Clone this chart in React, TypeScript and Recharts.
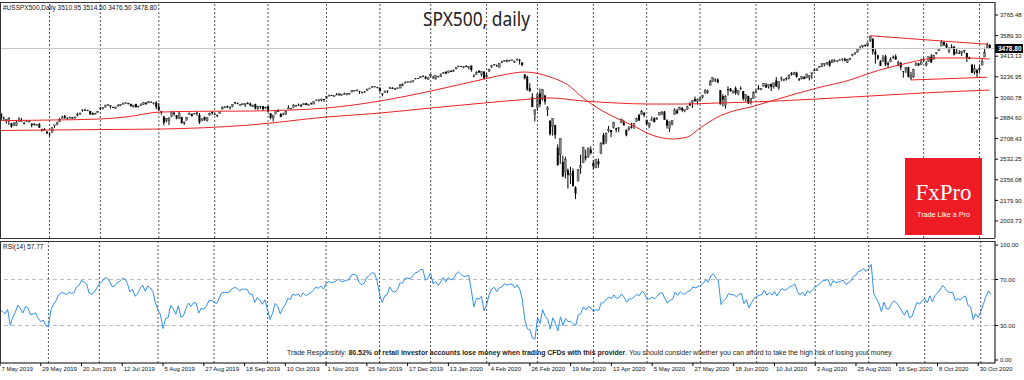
import {
  Bar,
  ComposedChart,
  Line,
  ReferenceLine,
  XAxis,
  YAxis,
} from "recharts";

// closes before the first visible bar (mid Apr - 6 May 2019), only used to seed RSI(14)
const preCloses = [2905, 2907, 2900, 2905, 2908, 2934, 2927, 2926, 2940, 2944, 2946, 2924, 2918, 2946, 2932];

// daily candles [open, high, low, close], 7 May 2019 .. 6 Nov 2020
const ohlc: number[][] = [
  // May 2019
  [2920, 2925, 2862, 2884], [2880, 2898, 2871, 2879], [2860, 2875, 2836, 2870], [2863, 2892, 2825, 2881],
  [2840, 2840, 2801, 2812], [2820, 2852, 2816, 2834], [2820, 2858, 2815, 2850], [2855, 2892, 2855, 2876], [2858, 2885, 2854, 2860],
  [2841, 2853, 2831, 2840], [2854, 2868, 2851, 2864], [2856, 2865, 2851, 2856], [2837, 2837, 2805, 2823], [2833, 2841, 2820, 2826],
  [2827, 2834, 2822, 2830], [2830, 2841, 2799, 2802], [2790, 2792, 2766, 2783], [2786, 2800, 2776, 2788], [2767, 2772, 2750, 2752],
  // Jun 2019
  [2752, 2763, 2728, 2744], [2762, 2805, 2762, 2803], [2818, 2827, 2801, 2826], [2828, 2853, 2822, 2843], [2853, 2885, 2848, 2873],
  [2885, 2904, 2883, 2886], [2903, 2911, 2878, 2885], [2882, 2888, 2874, 2879], [2887, 2895, 2881, 2891], [2887, 2894, 2880, 2887],
  [2889, 2898, 2885, 2889], [2906, 2931, 2898, 2917], [2920, 2932, 2912, 2926], [2949, 2958, 2937, 2954], [2952, 2964, 2946, 2950],
  [2951, 2955, 2944, 2945], [2945, 2946, 2912, 2917], [2926, 2932, 2912, 2913], [2920, 2929, 2917, 2924], [2932, 2943, 2929, 2942],
  // Jul 2019
  [2972, 2978, 2953, 2964], [2964, 2974, 2958, 2973], [2978, 2996, 2976, 2996], [2996, 3000, 2992, 2998], [2984, 2994, 2967, 2990],
  [2979, 2981, 2970, 2976], [2966, 2981, 2963, 2979], [2990, 3003, 2985, 2993], [2999, 3003, 2988, 3000], [3003, 3014, 3001, 3014],
  [3017, 3017, 3008, 3014], [3012, 3015, 3000, 3004], [3006, 3006, 2984, 2985], [2980, 2998, 2974, 2995], [3004, 3007, 2975, 2977],
  [2982, 2990, 2977, 2985], [2994, 3006, 2988, 3005], [2999, 3019, 2996, 3019], [3016, 3017, 2997, 3004], [3013, 3028, 3012, 3026],
  [3024, 3025, 3014, 3021], [3007, 3018, 3000, 3013], [3017, 3029, 2959, 2980],
  // Aug 2019
  [2981, 3013, 2945, 2954], [2943, 2945, 2914, 2932],
  [2898, 2898, 2822, 2844], [2861, 2884, 2847, 2881], [2859, 2892, 2825, 2884], [2896, 2938, 2891, 2938], [2930, 2935, 2901, 2919],
  [2908, 2909, 2874, 2883], [2880, 2943, 2877, 2926], [2894, 2894, 2839, 2840], [2846, 2856, 2825, 2848], [2865, 2893, 2865, 2889],
  [2913, 2932, 2913, 2924], [2919, 2923, 2899, 2900], [2922, 2928, 2917, 2925], [2930, 2940, 2904, 2922], [2911, 2927, 2834, 2847],
  [2866, 2879, 2857, 2878], [2893, 2898, 2860, 2869], [2861, 2890, 2853, 2888], [2910, 2930, 2906, 2924], [2937, 2940, 2914, 2926],
  // Sep 2019
  [2921, 2924, 2910, 2915], [2909, 2914, 2891, 2906], [2924, 2938, 2921, 2938], [2960, 2985, 2960, 2976], [2980, 2985, 2972, 2979],
  [2988, 2989, 2969, 2979], [2971, 2980, 2957, 2980], [2982, 3002, 2977, 3001], [3019, 3021, 3003, 3010], [3012, 3017, 3002, 3007],
  [2997, 3003, 2990, 2998], [2996, 3007, 2995, 3006], [3001, 3008, 2978, 3007], [3010, 3022, 3004, 3006], [3008, 3016, 2985, 2992],
  [2983, 2999, 2979, 2992], [3003, 3007, 2957, 2966], [2968, 2990, 2953, 2984], [2985, 2987, 2964, 2977], [2986, 2988, 2946, 2961],
  [2967, 2983, 2967, 2977],
  // Oct 2019
  [2983, 2993, 2938, 2940], [2925, 2925, 2874, 2887], [2885, 2911, 2855, 2910], [2919, 2953, 2918, 2952],
  [2945, 2960, 2937, 2938], [2920, 2925, 2892, 2893], [2912, 2929, 2907, 2919], [2918, 2948, 2912, 2938], [2963, 2993, 2963, 2970],
  [2966, 2972, 2962, 2966], [2974, 3003, 2974, 2996], [2990, 2997, 2986, 2990], [3000, 3008, 2991, 2998], [2997, 3000, 2977, 2986],
  [2997, 3008, 2996, 3007], [3010, 3015, 2995, 2996], [2994, 3005, 2992, 3004], [3014, 3016, 2997, 3010], [3004, 3027, 3001, 3023],
  [3033, 3044, 3032, 3039], [3036, 3047, 3031, 3036], [3039, 3050, 3026, 3047], [3046, 3046, 3023, 3038],
  // Nov 2019
  [3050, 3067, 3050, 3067],
  [3078, 3085, 3074, 3078], [3080, 3083, 3072, 3075], [3075, 3079, 3065, 3077], [3087, 3098, 3080, 3085], [3082, 3094, 3073, 3093],
  [3081, 3088, 3076, 3087], [3089, 3102, 3085, 3091], [3084, 3098, 3079, 3094], [3090, 3098, 3083, 3097], [3107, 3121, 3104, 3120],
  [3117, 3124, 3112, 3122], [3127, 3127, 3113, 3120], [3114, 3118, 3091, 3108], [3108, 3110, 3094, 3104], [3112, 3112, 3099, 3110],
  [3118, 3133, 3117, 3133], [3135, 3142, 3131, 3141], [3145, 3155, 3143, 3154], [3154, 3156, 3150, 3153], [3147, 3151, 3140, 3141],
  // Dec 2019
  [3144, 3144, 3110, 3114], [3087, 3095, 3070, 3093], [3103, 3120, 3103, 3113], [3119, 3120, 3099, 3117], [3134, 3151, 3134, 3146],
  [3141, 3149, 3135, 3135], [3135, 3143, 3126, 3133], [3136, 3144, 3133, 3142], [3141, 3176, 3138, 3169], [3167, 3182, 3157, 3169],
  [3183, 3198, 3183, 3191], [3195, 3198, 3191, 3192], [3195, 3199, 3191, 3191], [3192, 3205, 3192, 3205], [3223, 3226, 3216, 3221],
  [3226, 3227, 3222, 3224], [3227, 3240, 3227, 3240], [3247, 3247, 3234, 3240],
  [3240, 3240, 3216, 3221], [3216, 3231, 3212, 3231],
  // Jan 2020
  [3245, 3258, 3235, 3258], [3226, 3246, 3222, 3235],
  [3218, 3247, 3214, 3246], [3241, 3244, 3233, 3237], [3238, 3267, 3236, 3253], [3266, 3275, 3264, 3275], [3281, 3282, 3260, 3265],
  [3271, 3288, 3268, 3288], [3285, 3295, 3277, 3283], [3282, 3299, 3281, 3289], [3303, 3317, 3302, 3317], [3323, 3330, 3318, 3330],
  [3328, 3331, 3322, 3325], [3321, 3329, 3310, 3321], [3330, 3337, 3320, 3321], [3316, 3326, 3301, 3326], [3333, 3334, 3281, 3295],
  [3247, 3258, 3234, 3244], [3255, 3285, 3253, 3276], [3289, 3293, 3271, 3273], [3256, 3285, 3242, 3284], [3282, 3282, 3214, 3226],
  // Feb 2020
  [3236, 3268, 3235, 3249], [3281, 3306, 3281, 3298], [3324, 3337, 3313, 3334], [3344, 3347, 3334, 3345], [3335, 3341, 3322, 3328],
  [3318, 3352, 3317, 3352], [3365, 3375, 3355, 3358], [3370, 3381, 3369, 3379], [3365, 3385, 3360, 3374], [3378, 3380, 3367, 3380],
  [3380, 3384, 3374, 3382], [3369, 3375, 3355, 3370], [3380, 3393, 3378, 3386], [3380, 3390, 3342, 3373], [3360, 3360, 3328, 3338],
  [3257, 3259, 3214, 3226], [3238, 3247, 3118, 3128], [3139, 3182, 3108, 3116], [3062, 3097, 2977, 2979], [2916, 2959, 2855, 2954],
  // Mar 2020
  [2974, 3091, 2946, 3090], [3096, 3137, 2977, 3003], [3046, 3130, 3034, 3130], [3076, 3084, 2999, 3024], [2954, 2985, 2901, 2972],
  [2863, 2863, 2734, 2747], [2813, 2882, 2734, 2882], [2825, 2825, 2707, 2741], [2631, 2660, 2478, 2481], [2569, 2711, 2493, 2711],
  [2509, 2563, 2380, 2386], [2425, 2553, 2367, 2529], [2436, 2453, 2281, 2398], [2393, 2466, 2320, 2409], [2431, 2454, 2295, 2305],
  [2291, 2300, 2191, 2237], [2345, 2449, 2345, 2447], [2457, 2572, 2407, 2476], [2501, 2638, 2500, 2630], [2556, 2615, 2520, 2541],
  [2558, 2632, 2545, 2627], [2614, 2642, 2572, 2585],
  // Apr 2020
  [2499, 2522, 2447, 2471], [2458, 2533, 2455, 2527], [2514, 2538, 2459, 2489],
  [2579, 2677, 2575, 2664], [2739, 2756, 2657, 2660], [2686, 2760, 2664, 2750], [2776, 2818, 2762, 2790],
  [2782, 2782, 2721, 2762], [2805, 2852, 2795, 2846], [2796, 2801, 2761, 2784], [2800, 2807, 2765, 2800], [2843, 2880, 2842, 2875],
  [2845, 2868, 2820, 2823], [2784, 2786, 2728, 2737], [2787, 2815, 2775, 2799], [2810, 2844, 2795, 2798], [2812, 2842, 2791, 2837],
  [2854, 2887, 2852, 2878], [2909, 2921, 2860, 2863], [2918, 2954, 2912, 2940], [2931, 2931, 2892, 2912],
  // May 2020
  [2869, 2869, 2821, 2831],
  [2816, 2844, 2797, 2843], [2868, 2898, 2863, 2868], [2884, 2891, 2847, 2849], [2879, 2892, 2870, 2882], [2909, 2932, 2909, 2930],
  [2915, 2945, 2912, 2930], [2939, 2945, 2869, 2870], [2865, 2874, 2794, 2820], [2794, 2852, 2766, 2853], [2829, 2865, 2821, 2864],
  [2914, 2968, 2914, 2954], [2948, 2964, 2922, 2923], [2953, 2981, 2953, 2972], [2969, 2979, 2938, 2949], [2948, 2957, 2934, 2955],
  [2960, 2990, 2955, 2980], [3005, 3021, 2988, 2992], [3015, 3036, 2970, 3036], [3046, 3068, 3023, 3030], [3026, 3050, 2999, 3044],
  // Jun 2020
  [3038, 3062, 3032, 3056], [3064, 3081, 3051, 3081], [3098, 3131, 3091, 3123], [3112, 3128, 3091, 3112], [3163, 3211, 3163, 3194],
  [3199, 3233, 3193, 3232], [3214, 3223, 3193, 3207], [3213, 3223, 3181, 3190], [3123, 3123, 2999, 3002], [3072, 3088, 2984, 3041],
  [2993, 3079, 2965, 3067], [3131, 3154, 3076, 3125], [3137, 3141, 3109, 3113], [3101, 3121, 3093, 3115], [3140, 3155, 3083, 3098],
  [3094, 3121, 3079, 3118], [3138, 3155, 3127, 3131], [3115, 3115, 3033, 3050], [3047, 3086, 3024, 3084], [3074, 3074, 3005, 3009],
  [3018, 3054, 2999, 3053], [3050, 3112, 3048, 3100],
  // Jul 2020
  [3105, 3128, 3102, 3116], [3143, 3165, 3124, 3130], [3130, 3140, 3122, 3135],
  [3155, 3183, 3155, 3179], [3167, 3185, 3142, 3145], [3153, 3171, 3136, 3169], [3176, 3179, 3115, 3152], [3152, 3187, 3136, 3185],
  [3205, 3235, 3150, 3155], [3142, 3200, 3127, 3197], [3225, 3238, 3200, 3227], [3209, 3220, 3199, 3216], [3225, 3233, 3205, 3225],
  [3224, 3258, 3215, 3251], [3269, 3277, 3248, 3257], [3254, 3279, 3253, 3276], [3272, 3280, 3229, 3236], [3219, 3227, 3200, 3216],
  [3219, 3241, 3214, 3239], [3235, 3243, 3216, 3218], [3227, 3264, 3227, 3258], [3231, 3250, 3205, 3246], [3270, 3272, 3220, 3271],
  // Aug 2020
  [3288, 3302, 3284, 3295], [3289, 3306, 3287, 3306], [3317, 3330, 3317, 3327], [3323, 3351, 3319, 3349], [3341, 3352, 3328, 3351],
  [3357, 3364, 3335, 3360], [3370, 3381, 3323, 3333], [3356, 3387, 3355, 3380], [3373, 3388, 3363, 3373], [3368, 3378, 3361, 3373],
  [3380, 3388, 3374, 3381], [3387, 3395, 3370, 3389], [3392, 3399, 3369, 3375], [3360, 3391, 3355, 3385], [3386, 3399, 3379, 3397],
  [3418, 3433, 3412, 3431], [3435, 3444, 3424, 3443], [3449, 3481, 3444, 3478], [3485, 3501, 3468, 3484], [3494, 3509, 3485, 3508],
  [3509, 3514, 3494, 3500],
  // Sep 2020
  [3507, 3528, 3494, 3527], [3543, 3588, 3535, 3580], [3564, 3564, 3427, 3455], [3453, 3479, 3349, 3427],
  [3420, 3425, 3380, 3395], [3371, 3379, 3329, 3331], [3369, 3424, 3367, 3399], [3412, 3425, 3329, 3340], [3353, 3368, 3310, 3341],
  [3364, 3402, 3364, 3383], [3408, 3419, 3390, 3402], [3411, 3428, 3384, 3385], [3346, 3376, 3328, 3357], [3357, 3362, 3293, 3319],
  [3285, 3285, 3229, 3281], [3295, 3320, 3270, 3315], [3320, 3323, 3232, 3237], [3226, 3279, 3209, 3246], [3236, 3306, 3228, 3298],
  [3333, 3360, 3332, 3351], [3350, 3357, 3328, 3335], [3341, 3393, 3340, 3363],
  // Oct 2020
  [3385, 3397, 3361, 3381], [3338, 3370, 3324, 3348],
  [3368, 3409, 3367, 3408], [3408, 3431, 3355, 3361], [3385, 3426, 3385, 3419], [3434, 3448, 3428, 3446], [3459, 3482, 3459, 3477],
  [3500, 3549, 3499, 3534], [3534, 3534, 3500, 3512], [3515, 3527, 3481, 3489], [3453, 3489, 3441, 3483], [3493, 3515, 3480, 3484],
  [3494, 3502, 3419, 3427], [3439, 3476, 3435, 3443], [3440, 3465, 3433, 3436], [3439, 3460, 3415, 3453], [3464, 3466, 3440, 3465],
  [3441, 3441, 3364, 3401], [3404, 3409, 3388, 3391], [3342, 3342, 3268, 3271], [3277, 3342, 3259, 3310], [3293, 3305, 3234, 3270],
  // Nov 2020
  [3296, 3330, 3279, 3310], [3336, 3389, 3336, 3369], [3406, 3486, 3405, 3443], [3485, 3529, 3485, 3510], [3510.95, 3514.5, 3476.5, 3478.8],
];

// moving averages (bar index -> value)
const ma50Idx = [0, 19, 39, 50, 62, 78, 98, 114, 128, 149, 169, 190, 198, 206, 216, 223, 229, 236, 242, 249, 255, 264, 270, 275, 282, 288, 295, 303, 321, 334, 342, 355, 369, 380, 389];
const ma50Vals = [2862, 2867, 2876, 2896, 2935, 2942, 2944, 2953, 2970, 3030, 3115, 3218, 3255, 3278, 3235, 3167, 3056, 2953, 2885, 2816, 2748, 2705, 2722, 2799, 2893, 2944, 2979, 3030, 3141, 3210, 3270, 3346, 3398, 3398, 3389];
const ma200Idx = [0, 39, 62, 98, 128, 149, 169, 190, 204, 216, 229, 242, 255, 268, 282, 295, 321, 342, 362, 389];
const ma200Vals = [2778, 2786, 2790, 2825, 2893, 2927, 2970, 3013, 3039, 3056, 3030, 3013, 3004, 3004, 3013, 3021, 3047, 3073, 3098, 3124];

// drawn trend lines [fromIdx, fromPrice, toIdx, toPrice]
const trendLines = [
  [342, 3588, 388, 3515],
  [358, 3210, 388, 3233],
];

const monthStarts = [19, 39, 62, 84, 105, 128, 149, 169, 191, 211, 233, 254, 275, 297, 320, 341, 363, 385];
const tickLabels = [
  "7 May 2019", "29 May 2019", "20 Jun 2019", "12 Jul 2019", "5 Aug 2019", "27 Aug 2019", "18 Sep 2019",
  "10 Oct 2019", "1 Nov 2019", "25 Nov 2019", "17 Dec 2019", "13 Jan 2020", "4 Feb 2020", "26 Feb 2020",
  "19 Mar 2020", "13 Apr 2020", "5 May 2020", "27 May 2020", "18 Jun 2020", "10 Jul 2020", "3 Aug 2020",
  "25 Aug 2020", "16 Sep 2020", "8 Oct 2020", "30 Oct 2020",
];
const priceTicks = [2003.73, 2179.9, 2356.08, 2532.25, 2708.43, 2884.6, 3060.78, 3236.95, 3413.13, 3589.3, 3765.48];
const rsiTicks = [0, 30, 70, 100];
const lastPrice = 3478.8;

// RSI(14), Wilder smoothing, from the closes
const rsiValues = (() => {
  const closes = [...preCloses, ...ohlc.map((r) => r[3])];
  const out: number[] = [];
  let g = 0;
  let l = 0;
  for (let k = 1; k < closes.length; k++) {
    const diff = closes[k] - closes[k - 1];
    const up = diff > 0 ? diff : 0;
    const dn = diff < 0 ? -diff : 0;
    if (k <= 14) {
      g += up / 14;
      l += dn / 14;
    } else {
      g = (g * 13 + up) / 14;
      l = (l * 13 + dn) / 14;
    }
    if (k >= preCloses.length) out.push(l === 0 ? 100 : 100 - 100 / (1 + g / l));
  }
  return out;
})();

const rows = ohlc.map(([o, h, l, c], i) => {
  const a = ma50Idx.indexOf(i);
  const b = ma200Idx.indexOf(i);
  return {
    i,
    o,
    h,
    l,
    c,
    ma50: a >= 0 ? ma50Vals[a] : null,
    ma200: b >= 0 ? ma200Vals[b] : null,
    rsi: rsiValues[i],
  };
});

const FONT = "'Liberation Sans', Arial, sans-serif";

const Candle = (props: any) => {
  const { x, y, width, height, payload } = props;
  if (x == null || y == null) return null;
  const top = Math.min(y, y + height);
  const bot = Math.max(y, y + height);
  const span = payload.h - payload.l || 1;
  const toY = (v: number) => top + ((payload.h - v) / span) * (bot - top);
  const cx = x + width / 2;
  const bTop = toY(Math.max(payload.o, payload.c));
  const bBot = toY(Math.min(payload.o, payload.c));
  const up = payload.c >= payload.o;
  return (
    <g>
      <line x1={cx} x2={cx} y1={top} y2={bot} stroke="#000" strokeWidth={1} />
      <rect
        x={cx - 1}
        y={bTop}
        width={2}
        height={Math.max(bBot - bTop, 0.8)}
        fill={up ? "#808080" : "#000"}
        stroke={up ? "#222" : "none"}
        strokeWidth={up ? 0.35 : 0}
      />
    </g>
  );
};

const DateTick = (props: any) => {
  const { x, y, payload } = props;
  return (
    <text x={x + 1.5} y={y + 4} fontSize={6} fontFamily={FONT} fill="#111">
      {tickLabels[Math.round(payload.value / 16)]}
    </text>
  );
};

const separators = monthStarts.map((m) => (
  <ReferenceLine key={"s" + m} x={m} stroke="#222" strokeDasharray="2 2" strokeWidth={0.8} />
));

export default function App() {
  return (
    <div
      style={{
        position: "absolute",
        left: 0,
        top: 0,
        width: 1024,
        height: 380,
        background: "#fff",
        fontFamily: FONT,
        overflow: "hidden",
      }}
    >
      <div style={{ position: "absolute", left: 0, top: 0 }}>
        <ComposedChart width={1024} height={240} data={rows} margin={{ top: 2, right: 0, bottom: 2, left: 0 }}>
          <XAxis dataKey="i" hide padding={{ left: 0, right: 4 }} />
          <YAxis
            orientation="right"
            width={29}
            domain={[1858.3, 3876.7]}
            allowDataOverflow
            ticks={priceTicks}
            interval={0}
            tickFormatter={(v: number) => v.toFixed(2)}
            tick={{ fontSize: 6, fill: "#111", fontFamily: FONT }}
            tickSize={3}
            tickMargin={2}
            stroke="#000"
          />
          {separators}
          <ReferenceLine y={lastPrice} stroke="#c8c8c8" strokeWidth={1} />
          <Bar
            dataKey={(r: any) => [r.l, r.h]}
            shape={(p: any) => <Candle {...p} />}
            isAnimationActive={false}
          />
          <Line
            dataKey="ma200"
            type="monotone"
            connectNulls
            dot={false}
            stroke="#ee2222"
            strokeWidth={1}
            isAnimationActive={false}
          />
          <Line
            dataKey="ma50"
            type="monotone"
            connectNulls
            dot={false}
            stroke="#ee2222"
            strokeWidth={1}
            isAnimationActive={false}
          />
          {trendLines.map(([x1, y1, x2, y2], k) => (
            <ReferenceLine
              key={"t" + k}
              segment={[
                { x: x1, y: y1 },
                { x: x2, y: y2 },
              ]}
              stroke="#ee2222"
              strokeWidth={1}
            />
          ))}
        </ComposedChart>
      </div>

      <div style={{ position: "absolute", left: 0, top: 240 }}>
        <ComposedChart width={1024} height={140} data={rows} margin={{ top: 1, right: 0, bottom: 0, left: 0 }}>
          <XAxis
            dataKey="i"
            height={17}
            padding={{ left: 0, right: 4 }}
            interval={15}
            tick={<DateTick />}
            tickSize={3}
            tickMargin={1}
            stroke="#000"
          />
          <YAxis
            orientation="right"
            width={29}
            domain={[-2.6, 103.5]}
            allowDataOverflow
            ticks={rsiTicks}
            interval={0}
            tickFormatter={(v: number) => v.toFixed(2)}
            tick={{ fontSize: 6, fill: "#111", fontFamily: FONT }}
            tickSize={3}
            tickMargin={2}
            stroke="#000"
          />
          {separators}
          <ReferenceLine y={70} stroke="#bdbdbd" strokeDasharray="4 3" />
          <ReferenceLine y={30} stroke="#bdbdbd" strokeDasharray="4 3" />
          <Line
            dataKey="rsi"
            type="linear"
            dot={false}
            stroke="#2f8ff0"
            strokeWidth={1}
            isAnimationActive={false}
          />
        </ComposedChart>
      </div>

      <svg
        width={1024}
        height={380}
        style={{ position: "absolute", left: 0, top: 0, pointerEvents: "none" }}
      >
        {/* panel frames */}
        <line x1={0} y1={2.5} x2={995} y2={2.5} stroke="#333" />
        <line x1={0.5} y1={2} x2={0.5} y2={238} stroke="#333" />
        <line x1={0} y1={238.5} x2={995} y2={238.5} stroke="#333" />
        <line x1={0} y1={241.5} x2={995} y2={241.5} stroke="#333" />
        <line x1={0.5} y1={241} x2={0.5} y2={363} stroke="#333" />

        <text x={3} y={10} fontSize={6.5} fontFamily={FONT} fill="#111">
          #USSPX500,Daily  3510.95 3514.50 3476.50 3478.80
        </text>
        <text x={423} y={26} fontSize={19} fontFamily="'Noto Sans', sans-serif" fill="#222" textLength={107} lengthAdjust="spacingAndGlyphs">
          SPX500, daily
        </text>
        <text x={3} y={249} fontSize={6.5} fontFamily={FONT} fill="#111">
          RSI(14) 57.77
        </text>

        <rect x={995} y={44} width={28} height={9} fill="#000" />
        <text x={998} y={51} fontSize={6.5} fontFamily={FONT} fill="#fff" fontWeight="bold">
          3478.80
        </text>

        <rect x={905} y={158} width={77} height={77} fill="#ee1c25" />
        <text x={943.5} y={200} textAnchor="middle" fontSize={23} fontFamily="'Liberation Serif', serif" fill="#fff">
          FxPro
        </text>
        <text x={943.5} y={217} textAnchor="middle" fontSize={7.2} fontFamily={FONT} fill="#fff">
          Trade Like a Pro
        </text>

        <text x={287} y={355} fontSize={7.5} fontFamily={FONT} fill="#222" textLength={606} lengthAdjust="spacingAndGlyphs">
          Trade Responsibly: <tspan fontWeight="bold">80.52% of retail investor accounts lose money when trading CFDs with this provider</tspan>. You should consider whether you can afford to take the high risk of losing your money.
        </text>
      </svg>
    </div>
  );
}
